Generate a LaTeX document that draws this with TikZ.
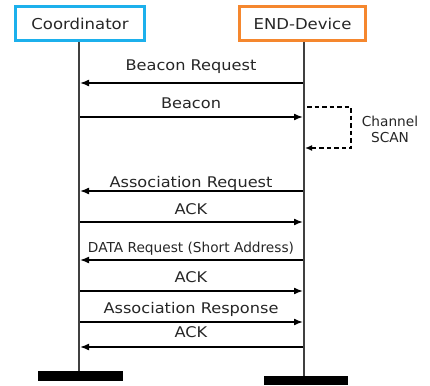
\documentclass[tikz,border=0pt]{standalone}
\usepackage{fontspec}
\setmainfont{DejaVu Sans}
\newfontfamily\widefont[FakeStretch=1.1]{DejaVu Sans}
\usetikzlibrary{arrows.meta}
\definecolor{coordblue}{HTML}{1CB0EC}
\definecolor{devorange}{HTML}{F5872E}
\definecolor{lifegray}{HTML}{404040}
\tikzset{
  actor/.style={draw, line width=3pt, minimum height=34pt, inner sep=0pt,
    font=\widefont\fontsize{15}{17}\selectfont, text=black!85},
  lifeline/.style={draw=lifegray, line width=1.1pt},
  msg/.style={line width=1.6pt, -{Latex[length=9pt,width=7pt]}},
  msglabel/.style={anchor=base, inner sep=0pt, font=\widefont\fontsize{14.7}{17}\selectfont, text=black!85},
  smalllabel/.style={anchor=base, inner sep=0pt, font=\fontsize{13.7}{16}\selectfont, text=black!85},
  scanloop/.style={line width=2pt, dash pattern=on 4.5pt off 3pt, -{Latex[length=7pt,width=6pt]}},
  endbar/.style={fill=black, draw=none}
}
\begin{document}
\begin{tikzpicture}[x=1pt,y=-1pt]
\useasboundingbox (0,0) rectangle (430,385);
% actors
\node[actor, draw=coordblue, minimum width=129pt] (coord) at (80,23.5) {Coordinator};
\node[actor, draw=devorange, minimum width=126pt] (dev) at (302.5,23.5) {END-Device};
% lifeline ends
\coordinate (cend) at (79,371);
\coordinate (dend) at (304,376);
\coordinate (ctop) at (79,42);
\coordinate (dtop) at (304,42);
\draw[lifeline] (ctop) -- (cend);
\draw[lifeline] (dtop) -- (dend);
% end bars
\fill[endbar] (38,371) rectangle (123,381);
\fill[endbar] (264,376) rectangle (348,385);
% message anchor points
\foreach \i/\y in {1/83,2/117,3/191,4/222,5/260,6/291,7/322,8/347}{
  \coordinate (c\i) at (80,\y);
  \coordinate (d\i) at (303,\y);
}
\draw[msg] (d1) -- (c1);
\draw[msg] (c2) -- (d2);
\draw[msg] (d3) -- (c3);
\draw[msg] (c4) -- (d4);
\draw[msg] (d5) -- (c5);
\draw[msg] (c6) -- (d6);
\draw[msg] (c7) -- (d7);
\draw[msg] (d8) -- (c8);
% labels
\node[msglabel] (l1) at (191,71) {Beacon Request};
\node[msglabel] (l2) at (191,108) {Beacon};
\node[msglabel] (l3) at (191,187) {Association Request};
\node[msglabel] (l4) at (191,214) {ACK};
\node[smalllabel] (l5) at (191,252) {DATA Request (Short Address)};
\node[msglabel] (l6) at (191,282) {ACK};
\node[msglabel] (l7) at (191,313) {Association Response};
\node[msglabel] (l8) at (191,337) {ACK};
% channel scan loop
\coordinate (s0) at (307,107);
\coordinate (s1) at (351,107);
\coordinate (s2) at (351,148);
\coordinate (s3) at (305,148);
\draw[scanloop] (s0) -- (s1) -- (s2) -- (s3);
\node[smalllabel, align=center, anchor=north] (scan) at (390,116) {Channel\\SCAN};
\end{tikzpicture}
\end{document}
